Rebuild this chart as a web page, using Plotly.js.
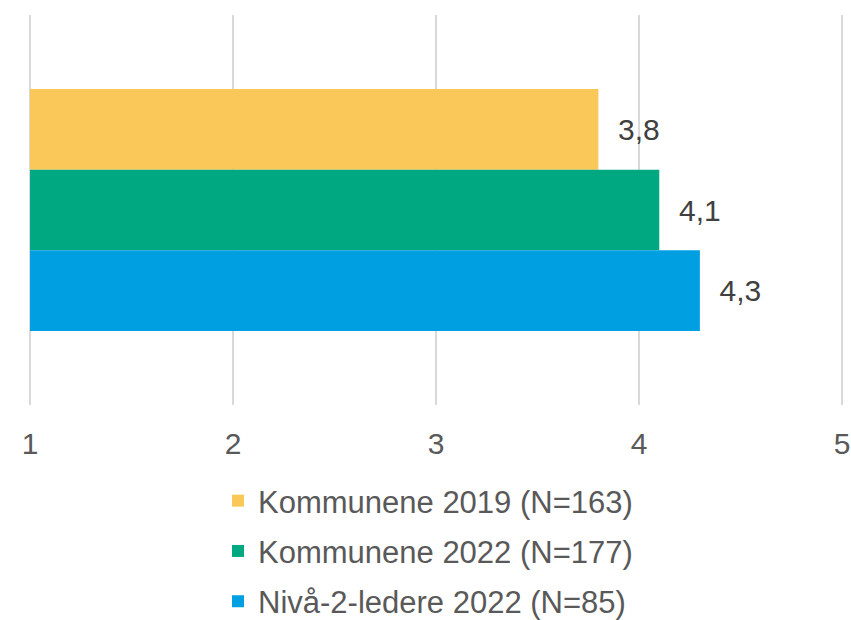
<!DOCTYPE html>
<html>
<head>
<meta charset="utf-8">
<script src="https://cdn.plot.ly/plotly-3.0.1.min.js"></script>
<style>html,body{margin:0;padding:0;background:#fff;}#chart{width:851px;height:620px;}</style>
</head>
<body>
<div id="chart"></div>
<script>
const seriesNames = ["Kommunene 2019 (N=163)", "Kommunene 2022 (N=177)", "Nivå-2-ledere 2022 (N=85)"];
const seriesValues = [3.8, 4.1, 4.3];
const seriesColors = ["#FAC858", "#00A882", "#009FE2"];
const category = [""];
const xTicks = [1, 2, 3, 4, 5];

const traces = seriesNames.map((name, i) => ({
  type: "bar",
  orientation: "h",
  name: name,
  y: category,
  x: [seriesValues[i] - 1],
  base: 1,
  customdata: [seriesValues[i]],
  marker: {color: seriesColors[i]},
  texttemplate: "\u00a0\u00a0%{customdata:.1f}",
  textposition: "outside",
  textfont: {family: "Liberation Sans, Arial, sans-serif", size: 30, color: "#404040"},
  cliponaxis: false,
  hoverinfo: "skip",
  legendgroup: "g" + i
}));

const layout = {
  width: 851, height: 620,
  margin: {l: 28, r: 7, t: 15, b: 215, autoexpand: false},
  paper_bgcolor: "#ffffff", plot_bgcolor: "#ffffff",
  separators: ", ",
  barmode: "group",
  bargap: 0.38,
  bargroupgap: 0,
  showlegend: true,
  font: {family: "Liberation Sans, Arial, sans-serif", color: "#595959"},
  xaxis: {
    range: [0.99, 5.01], tickvals: xTicks, ticktext: xTicks.map(String),
    showgrid: true, gridcolor: "#D9D9D9", gridwidth: 2,
    zeroline: false, showline: false, ticks: "",
    ticklabelstandoff: 18,
    tickfont: {size: 30, color: "#595959"}, fixedrange: true, automargin: false
  },
  yaxis: {
    type: "category", autorange: "reversed", showgrid: false, zeroline: false,
    showline: false, showticklabels: false, ticks: "", fixedrange: true
  },
  legend: {
    orientation: "v", x: 218 / 851, xref: "container", xanchor: "left",
    y: 1 - 474 / 620, yref: "container", yanchor: "top",
    font: {size: 31, color: "#595959"}, tracegroupgap: 7,
    itemwidth: 30, bgcolor: "rgba(0,0,0,0)"
  }
};

Plotly.newPlot("chart", traces, layout, {staticPlot: true, displayModeBar: false});
</script>
</body>
</html>
